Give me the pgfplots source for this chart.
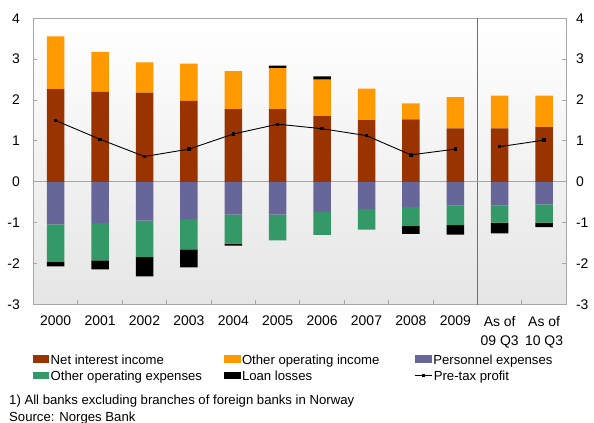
\documentclass[border=0pt]{standalone}
\usepackage{fontspec}
\setmainfont{Liberation Sans}
\usepackage{pgfplots}
\pgfplotsset{compat=1.18}
\usepackage{pgfplotstable}
\definecolor{nii}{HTML}{993300}
\definecolor{ooi}{HTML}{FF9900}
\definecolor{pers}{HTML}{666699}
\definecolor{oth}{HTML}{339966}
\definecolor{axgray}{HTML}{A6A6A6}
\definecolor{sepgray}{HTML}{707070}

\pgfplotstableread{
x  nii   ooi   pers   oth    ll
0  2.27  1.29  -1.04  -0.92  -0.11
1  2.20  0.98  -1.01  -0.91  -0.22
2  2.18  0.74  -0.95  -0.89  -0.47
3  1.98  0.91  -0.91  -0.74  -0.44
4  1.78  0.93  -0.80  -0.71  -0.05
5  1.78  1.00  -0.80  -0.63   0.06
6  1.61  0.89  -0.74  -0.56   0.08
7  1.51  0.77  -0.66  -0.51   0.00
8  1.53  0.39  -0.61  -0.47  -0.19
9  1.31  0.76  -0.58  -0.48  -0.23
10 1.31  0.80  -0.58  -0.42  -0.26
11 1.34  0.77  -0.55  -0.45  -0.11
}\data

\newcommand{\lbox}[1]{\makebox[174.8bp][l]{\hspace{1.5bp}#1}}

\begin{document}
\begin{tikzpicture}
\begin{axis}[
  name=main,
  scale only axis, width=532.8bp, height=286.2bp,
  xmin=-0.5, xmax=11.5, ymin=-3, ymax=4,
  ybar stacked, stack negative=separate, bar width=17.5bp,
  axis background/.style={top color=white, bottom color=black!10},
  axis line style={axgray, line width=1.2bp},
  xtick={0,...,11},
  xticklabels={2000,2001,2002,2003,2004,2005,2006,2007,2008,2009,{As of\\09 Q3},{As of\\10 Q3}},
  major x tick style={draw=none},
  minor xtick={0.5,1.5,...,10.5},
  minor x tick style={axgray, line width=1bp},
  minor tick length=5bp,
  xtick pos=bottom,
  ytick={-3,...,4}, ytick pos=both, yticklabel pos=left,
  major tick length=4bp,
  y tick style={axgray, line width=1bp},
  /pgf/number format/assume math mode=true,
  tick label style={font=\fontsize{14}{19}\selectfont, text=black},
  xticklabel style={align=center, anchor=north, inner sep=0pt, yshift=-11.5bp},
  yticklabel style={anchor=east, inner sep=0pt, xshift=-13.5bp},
  legend columns=3,
  legend style={at={(axis description cs:-0.0015,-0.173)}, anchor=north west,
    draw=none, fill=none, inner sep=0pt, outer sep=0pt,
    column sep=0pt, row sep=3.7bp,
    font=\fontsize{13.2}{15}\selectfont,
    nodes={anchor=west, inner sep=0pt, outer sep=0pt, text height=10bp, text depth=3bp}},
  legend cell align=left,
  clip=false,
]
\coordinate (bl) at (rel axis cs:0,0);
\addplot[fill=nii, draw=none, legend image code/.code={\fill[nii] (0bp,-2.2bp) rectangle (16.5bp,5.5bp);}] table[x=x,y=nii] {\data};
\addlegendentry{\lbox{Net interest income}}
\addplot[fill=ooi, draw=none, legend image code/.code={\fill[ooi] (0bp,-2.2bp) rectangle (16.5bp,5.5bp);}] table[x=x,y=ooi] {\data};
\addlegendentry{\lbox{Other operating income}}
\addplot[fill=pers, draw=none, legend image code/.code={\fill[pers] (0bp,-2.2bp) rectangle (16.5bp,5.5bp);}] table[x=x,y=pers] {\data};
\addlegendentry{\lbox{Personnel expenses}}
\addplot[fill=oth, draw=none, legend image code/.code={\fill[oth] (0bp,-2.2bp) rectangle (16.5bp,5.5bp);}] table[x=x,y=oth] {\data};
\addlegendentry{\lbox{Other operating expenses}}
\addplot[fill=black, draw=none, legend image code/.code={\fill[black] (0bp,-2.2bp) rectangle (16.5bp,5.5bp);}] table[x=x,y=ll] {\data};
\addlegendentry{\lbox{Loan losses}}
\draw[axgray, line width=1bp] (axis cs:-0.5,0) -- (axis cs:11.5,0);
\draw[sepgray, line width=1bp] (axis cs:9.5,-3) -- (axis cs:9.5,4);
\end{axis}
\begin{axis}[
  scale only axis, width=532.8bp, height=286.2bp,
  xmin=-0.5, xmax=11.5, ymin=-3, ymax=4,
  hide x axis,
  axis y line*=right,
  y axis line style={draw=none},
  ytick={-3,...,4},
  ytick style={draw=none},
  /pgf/number format/assume math mode=true,
  yticklabel style={font=\fontsize{14}{19}\selectfont, anchor=west, inner sep=0pt, xshift=9.5bp},
  unbounded coords=jump,
  legend columns=1,
  legend style={at={(axis description cs:0.716,-0.173)}, anchor=north west,
    draw=none, fill=none, inner sep=0pt, outer sep=0pt,
    column sep=0pt, row sep=3.7bp,
    font=\fontsize{13.2}{15}\selectfont,
    nodes={anchor=west, inner sep=0pt, outer sep=0pt, text height=10bp, text depth=3bp}},
  legend cell align=left,
  clip=false,
]
\addlegendimage{empty legend}
\addlegendentry{}
\addplot[black, line width=0.9bp, mark=square*, mark size=1.2bp,
  legend image code/.code={\draw[black, line width=0.8bp] (0bp,1.9bp) -- (16.5bp,1.9bp); \fill[black] (7.4bp,1bp) rectangle (9.1bp,2.8bp);}]
  coordinates {(0,1.50) (1,1.04) (2,0.62) (3,0.80) (4,1.17) (5,1.41) (6,1.30) (7,1.13) (8,0.66) (9,0.80) (9.5,nan) (10,0.86) (11,1.02)};
\addlegendentry{\hspace{1.5bp}Pre-tax profit}
\node[anchor=base west, font=\fontsize{13.2}{15}\selectfont, inner sep=0pt] at ([xshift=-24.5bp, yshift=-99.5bp]bl) {1) All banks excluding branches of foreign banks in Norway};
\node[anchor=base west, font=\fontsize{13.2}{15}\selectfont, inner sep=0pt] at ([xshift=-24.5bp, yshift=-116.5bp]bl) {Source: Norges Bank};
\end{axis}
\pgfresetboundingbox
\path[use as bounding box] ([xshift=-33.5bp, yshift=-118.5bp]bl) rectangle ++(594bp,423bp);
\end{tikzpicture}
\end{document}
